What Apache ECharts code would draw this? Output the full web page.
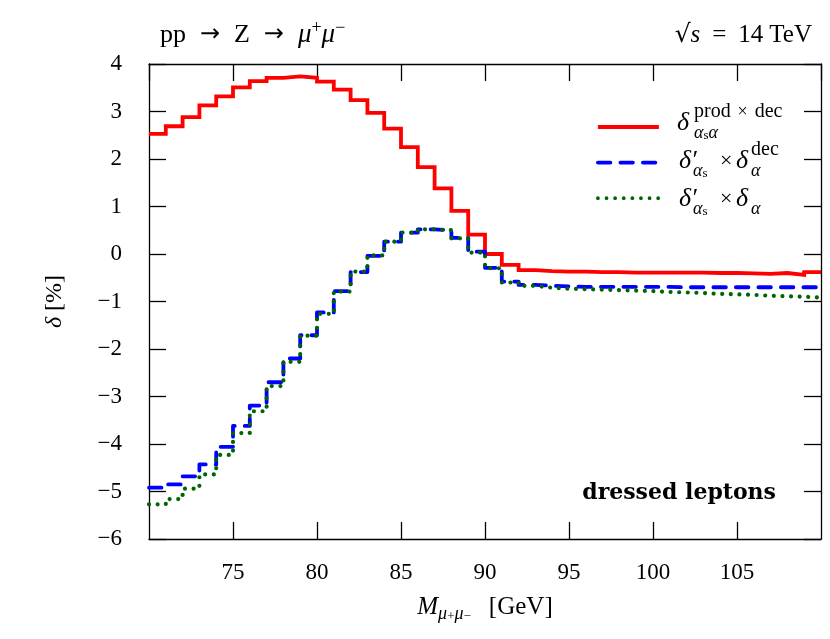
<!DOCTYPE html>
<html><head><meta charset="utf-8">
<script src="https://cdn.jsdelivr.net/npm/echarts@6/dist/echarts.min.js"></script>
<style>html,body{margin:0;padding:0;background:#fff}#c{width:830px;height:639px}</style>
</head><body><div id="c"></div>
<script>
// bin edges of the M(mu+mu-) histogram [GeV]
const binEdges = [70,71,72,73,74,75,76,77,78,79,80,81,82,83,84,85,86,87,88,89,90,
  91,92,93,94,95,96,97,98,99,100,101,102,103,104,105,106,107,108,109,110];
// delta_{alpha_s alpha}^{prod x dec} [%]
const redValues = [2.53,2.69,2.88,3.13,3.32,3.51,3.64,3.71,3.74,3.71,3.63,3.46,3.24,2.97,2.64,2.25,1.83,1.38,0.91,0.41,
  0.00,-0.23,-0.34,-0.36,-0.37,-0.37,-0.38,-0.38,-0.39,-0.39,-0.39,-0.39,-0.39,-0.40,-0.40,-0.41,-0.42,-0.40,-0.44,-0.38];
// delta'_{alpha_s} x delta_alpha^{dec} [%]
const blueValues = [-4.92,-4.85,-4.68,-4.43,-4.06,-3.62,-3.19,-2.70,-2.20,-1.71,-1.23,-0.78,-0.38,-0.04,0.26,0.45,0.52,0.50,0.34,0.05,
  -0.29,-0.58,-0.65,-0.67,-0.68,-0.69,-0.69,-0.69,-0.69,-0.69,-0.69,-0.70,-0.70,-0.70,-0.70,-0.70,-0.70,-0.70,-0.70,-0.70];
// delta'_{alpha_s} x delta_alpha [%]
const greenValues = [-5.27,-5.16,-4.94,-4.64,-4.23,-3.77,-3.31,-2.78,-2.27,-1.72,-1.26,-0.79,-0.37,-0.03,0.26,0.45,0.52,0.50,0.33,0.03,
  -0.30,-0.60,-0.67,-0.71,-0.73,-0.74,-0.75,-0.76,-0.77,-0.78,-0.80,-0.81,-0.82,-0.84,-0.85,-0.86,-0.88,-0.89,-0.90,-0.92];
const seriesNames = ['δ_{αsα}^{prod×dec}', "δ'_{αs} × δ_α^{dec}", "δ'_{αs} × δ_α"];
const xRange = [70, 110];
const yRange = [-6, 4];

const F = '"Liberation Serif","DejaVu Serif",serif';
const FS = '"DejaVu Sans",sans-serif';
function histPoints(vals) {
  return binEdges.map((e, i) => [e, vals[Math.min(i, vals.length - 1)]]);
}
function T(x, y, text, size, italic, align) {
  return { type: 'text', x: x, y: y, silent: true,
    style: { text: text, fill: '#000', font: (italic ? 'italic ' : '') + size + 'px ' + F,
      align: align || 'left', verticalAlign: 'middle' } };
}
function R(x, y, text, rich, align) {
  return { type: 'text', x: x, y: y, silent: true,
    style: { text: text, rich: rich, fill: '#000', align: align || 'left', verticalAlign: 'middle' } };
}
const subRich = { i: { fontFamily: F, fontStyle: 'italic', fontSize: 18, color: '#000' },
                  s: { fontFamily: F, fontSize: 13, color: '#000', verticalAlign: 'bottom', lineHeight: 15 } };
const supRich = { t: { fontFamily: F, fontSize: 20, color: '#000' },
                  x: { fontFamily: F, fontSize: 18, color: '#000', width: 24, align: 'center' } };

const axisLineStyle = { color: '#000', width: 1.3 };
const chart = echarts.init(document.getElementById('c'));
chart.setOption({
  animation: false,
  backgroundColor: '#fff',
  grid: { left: 149, right: 9, top: 64, bottom: 100, containLabel: false },
  xAxis: [{
    type: 'value', min: xRange[0], max: xRange[1], interval: 5, position: 'bottom',
    axisLine: { onZero: false, lineStyle: axisLineStyle },
    axisTick: { inside: true, length: 17, lineStyle: axisLineStyle },
    splitLine: { show: false },
    axisLabel: { showMinLabel: false, showMaxLabel: false, margin: 22, fontFamily: F, fontSize: 23, color: '#000' },
    name: '{m|M}{s|μ}{p|+}{s|μ}{p|−}{g| }{r|[GeV]}', nameLocation: 'middle', nameGap: 52,
    nameTextStyle: { rich: {
      m: { fontFamily: F, fontStyle: 'italic', fontSize: 25, lineHeight: 32, color: '#000' },
      s: { fontFamily: F, fontStyle: 'italic', fontSize: 18, lineHeight: 16, verticalAlign: 'bottom', color: '#000' },
      p: { fontFamily: F, fontSize: 13, lineHeight: 28, verticalAlign: 'bottom', color: '#000' },
      g: { width: 18 },
      r: { fontFamily: F, fontSize: 25, lineHeight: 32, color: '#000' } } }
  }, {
    type: 'value', min: xRange[0], max: xRange[1], interval: 5, position: 'top',
    axisLine: { onZero: false, lineStyle: axisLineStyle },
    axisTick: { inside: true, length: 17, lineStyle: axisLineStyle },
    splitLine: { show: false }, axisLabel: { show: false }
  }],
  yAxis: [{
    type: 'value', min: yRange[0], max: yRange[1], interval: 1, position: 'left',
    axisLine: { onZero: false, lineStyle: axisLineStyle },
    axisTick: { inside: true, length: 17, lineStyle: axisLineStyle },
    splitLine: { show: false },
    axisLabel: { margin: 27, fontFamily: F, fontSize: 23, color: '#000',
      formatter: v => String(v).replace('-', '−') },
    name: '{i|δ}{r| [%]}', nameLocation: 'middle', nameGap: 82,
    nameTextStyle: { rich: {
      i: { fontFamily: F, fontStyle: 'italic', fontSize: 24, color: '#000' },
      r: { fontFamily: F, fontSize: 24, color: '#000' } } }
  }, {
    type: 'value', min: yRange[0], max: yRange[1], interval: 1, position: 'right',
    axisLine: { onZero: false, lineStyle: axisLineStyle },
    axisTick: { inside: true, length: 17, lineStyle: axisLineStyle },
    splitLine: { show: false }, axisLabel: { show: false }
  }],
  legend: {
    orient: 'vertical', left: 591, top: 115, itemWidth: 61, itemHeight: 14, itemGap: 23,
    selectedMode: false, formatter: () => '',
    itemStyle: { opacity: 0 },
    lineStyle: { width: 3.8 },
    data: seriesNames
  },
  series: [{
    name: seriesNames[0], type: 'line', step: 'end', symbol: 'none', data: histPoints(redValues),
    lineStyle: { color: '#ff0000', width: 3.8, join: 'miter' }, itemStyle: { color: '#ff0000' }
  }, {
    name: seriesNames[1], type: 'line', step: 'end', symbol: 'none', data: histPoints(blueValues),
    lineStyle: { color: '#0000ff', width: 3.8, type: [12.5, 10], cap: 'round', join: 'round' }, itemStyle: { color: '#0000ff' }
  }, {
    name: seriesNames[2], type: 'line', step: 'end', symbol: 'none', data: histPoints(greenValues),
    lineStyle: { color: '#006400', width: 4.2, type: [0.01, 8.6], cap: 'round', join: 'round' }, itemStyle: { color: '#006400' }
  }],
  graphic: [
    R(160, 35, '{r|pp}{a|→}{r|Z}{a|→}{i|μ}{p|+}{i|μ}{p|−}', {
      r: { fontFamily: F, fontSize: 26, lineHeight: 32, color: '#000' },
      a: { fontFamily: FS, fontSize: 24, lineHeight: 32, width: 48, align: 'center', color: '#000' },
      i: { fontFamily: F, fontStyle: 'italic', fontSize: 27, lineHeight: 32, color: '#000' },
      p: { fontFamily: F, fontSize: 18, lineHeight: 18, verticalAlign: 'top', color: '#000' } }),
    R(812, 35, '{q|√}{i|s}{e|=}{r|14}{g| }{r|TeV}', {
      q: { fontFamily: FS, fontSize: 25, color: '#000' },
      r: { fontFamily: F, fontSize: 25, color: '#000' },
      e: { fontFamily: F, fontSize: 25, width: 38, align: 'center', color: '#000' },
      g: { width: 6 },
      i: { fontFamily: F, fontStyle: 'italic', fontSize: 25, color: '#000' } }, 'right'),
    // legend labels
    T(677, 123, 'δ', 26, true),
    R(694, 112, '{t|prod}{x|×}{t|dec}', supRich),
    R(694, 133, '{i|α}{s|s}{i|α}', subRich),
    T(679, 161, 'δ′', 26, true),
    R(693, 171, '{i|α}{s|s}', subRich),
    T(720, 161, '×', 22, false),
    T(736, 161, 'δ', 26, true),
    R(751, 150, '{t|dec}', supRich),
    R(751, 171, '{i|α}', subRich),
    T(679, 199, 'δ′', 26, true),
    R(693, 209, '{i|α}{s|s}', subRich),
    T(720, 199, '×', 22, false),
    T(736, 199, 'δ', 26, true),
    R(751, 209, '{i|α}', subRich),
    { type: 'text', x: 776, y: 493, silent: true,
      style: { text: 'dressed leptons', fill: '#000', font: 'bold 22px "DejaVu Serif",serif', align: 'right', verticalAlign: 'middle' } }
  ]
});
</script></body></html>
